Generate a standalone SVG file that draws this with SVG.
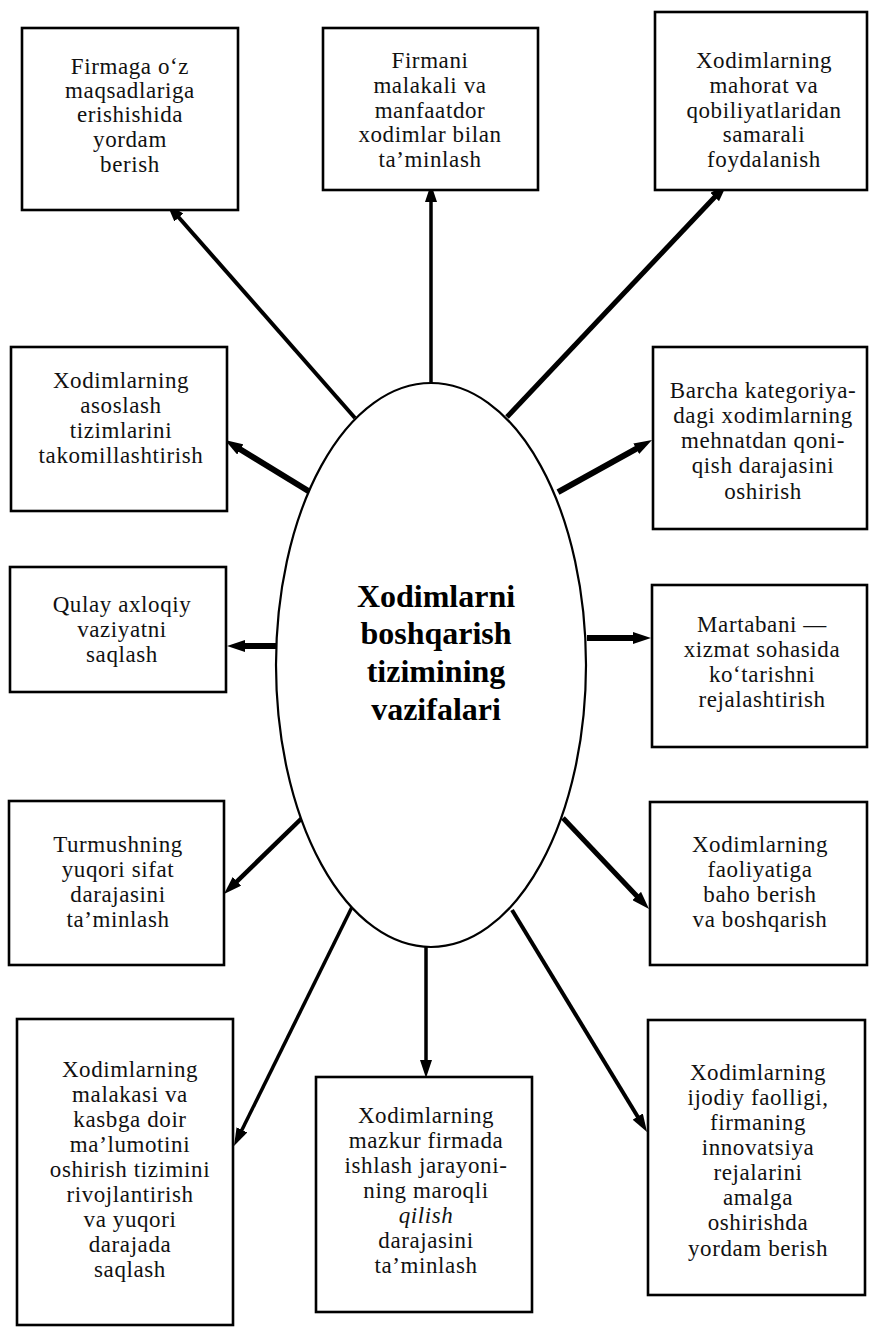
<svg xmlns="http://www.w3.org/2000/svg" width="869" height="1328" viewBox="0 0 869 1328">
<style>
.box{fill:#fff;stroke:#000;stroke-width:2.6}
.t{font-family:"Liberation Serif","Times New Roman",serif;font-size:23px;letter-spacing:0.6px;fill:#111;text-anchor:middle}
.title{font-family:"Liberation Serif","Times New Roman",serif;font-size:32px;font-weight:bold;fill:#000;text-anchor:middle}
.c{stroke:#000;fill:none;marker-end:url(#ah)}
</style>
<defs>
<marker id="ah" viewBox="0 0 18 12" markerWidth="18" markerHeight="12" refX="6" refY="6" orient="auto" markerUnits="userSpaceOnUse">
<path d="M0,0 L18,6 L0,12 z" fill="#000"/>
</marker>
</defs>
<rect width="869" height="1328" fill="#fff"/>

<g id="connectors">
<line class="c" x1="355" y1="418" x2="174.9" y2="213" stroke-width="4"/>
<line class="c" x1="431" y1="383" x2="431" y2="196" stroke-width="3.5"/>
<line class="c" x1="507" y1="417" x2="718.8" y2="192.7" stroke-width="5"/>
<line class="c" x1="310" y1="492" x2="235.2" y2="446.3" stroke-width="6"/>
<line class="c" x1="278" y1="646" x2="239" y2="646" stroke-width="6"/>
<line class="c" x1="558" y1="492" x2="641.5" y2="445.8" stroke-width="6"/>
<line class="c" x1="587" y1="638" x2="639" y2="638" stroke-width="6"/>
<line class="c" x1="302" y1="818" x2="232.6" y2="885.6" stroke-width="4.5"/>
<line class="c" x1="563" y1="818" x2="640.8" y2="900.3" stroke-width="5"/>
<line class="c" x1="352" y1="907" x2="239.3" y2="1135.2" stroke-width="3.5"/>
<line class="c" x1="426" y1="947" x2="426" y2="1066" stroke-width="3.5"/>
<line class="c" x1="512" y1="910" x2="640.8" y2="1121.7" stroke-width="4"/>
</g>

<g id="center">
<ellipse cx="431" cy="665" rx="155" ry="282" fill="#fff" stroke="#000" stroke-width="2.2"/>
<text class="title" x="436" y="607">Xodimlarni</text>
<text class="title" x="436" y="644">boshqarish</text>
<text class="title" x="436" y="682">tizimining</text>
<text class="title" x="436" y="720">vazifalari</text>
</g>

<g id="n1">
<rect class="box" x="22" y="28" width="216" height="182"/>
<text class="t" x="130" y="74">Firmaga o‘z</text>
<text class="t" x="130" y="98">maqsadlariga</text>
<text class="t" x="130" y="122">erishishida</text>
<text class="t" x="130" y="147">yordam</text>
<text class="t" x="130" y="172">berish</text>
</g>

<g id="n2">
<rect class="box" x="323" y="28" width="215" height="162"/>
<text class="t" x="430" y="68">Firmani</text>
<text class="t" x="430" y="93">malakali va</text>
<text class="t" x="430" y="118">manfaatdor</text>
<text class="t" x="430" y="142">xodimlar  bilan</text>
<text class="t" x="430" y="167">ta’minlash</text>
</g>

<g id="n3">
<rect class="box" x="655" y="12" width="212" height="178"/>
<text class="t" x="764" y="68">Xodimlarning</text>
<text class="t" x="764" y="93">mahorat va</text>
<text class="t" x="764" y="118">qobiliyatlaridan</text>
<text class="t" x="764" y="142">samarali</text>
<text class="t" x="764" y="167">foydalanish</text>
</g>

<g id="n4">
<rect class="box" x="11" y="347" width="216" height="164"/>
<text class="t" x="121" y="388">Xodimlarning</text>
<text class="t" x="121" y="413">asoslash</text>
<text class="t" x="121" y="438">tizimlarini</text>
<text class="t" x="121" y="463">takomillashtirish</text>
</g>

<g id="n5">
<rect class="box" x="10" y="567" width="216" height="125"/>
<text class="t" x="122" y="612">Qulay axloqiy</text>
<text class="t" x="122" y="637">vaziyatni</text>
<text class="t" x="122" y="662">saqlash</text>
</g>

<g id="n6">
<rect class="box" x="653" y="347" width="214" height="182"/>
<text class="t" x="763" y="398">Barcha kategoriya-</text>
<text class="t" x="763" y="423">dagi xodimlarning</text>
<text class="t" x="763" y="448">mehnatdan qoni-</text>
<text class="t" x="763" y="473">qish  darajasini</text>
<text class="t" x="763" y="499">oshirish</text>
</g>

<g id="n7">
<rect class="box" x="652" y="585" width="215" height="162"/>
<text class="t" x="762" y="632">Martabani —</text>
<text class="t" x="762" y="657">xizmat sohasida</text>
<text class="t" x="762" y="682">ko‘tarishni</text>
<text class="t" x="762" y="707">rejalashtirish</text>
</g>

<g id="n8">
<rect class="box" x="9" y="801" width="215" height="164"/>
<text class="t" x="118" y="852">Turmushning</text>
<text class="t" x="118" y="877">yuqori sifat</text>
<text class="t" x="118" y="902">darajasini</text>
<text class="t" x="118" y="927">ta’minlash</text>
</g>

<g id="n9">
<rect class="box" x="650" y="802" width="217" height="163"/>
<text class="t" x="760" y="852">Xodimlarning</text>
<text class="t" x="760" y="877">faoliyatiga</text>
<text class="t" x="760" y="902">baho  berish</text>
<text class="t" x="760" y="927">va boshqarish</text>
</g>

<g id="n10">
<rect class="box" x="17" y="1019" width="216" height="306"/>
<text class="t" x="130" y="1077">Xodimlarning</text>
<text class="t" x="130" y="1102">malakasi va</text>
<text class="t" x="130" y="1127">kasbga doir</text>
<text class="t" x="130" y="1152">ma’lumotini</text>
<text class="t" x="130" y="1177">oshirish  tizimini</text>
<text class="t" x="130" y="1202">rivojlantirish</text>
<text class="t" x="130" y="1227">va yuqori</text>
<text class="t" x="130" y="1252">darajada</text>
<text class="t" x="130" y="1277">saqlash</text>
</g>

<g id="n11">
<rect class="box" x="316" y="1077" width="216" height="235"/>
<text class="t" x="426" y="1123">Xodimlarning</text>
<text class="t" x="426" y="1148">mazkur firmada</text>
<text class="t" x="426" y="1173">ishlash  jarayoni-</text>
<text class="t" x="426" y="1198">ning maroqli</text>
<text class="t" x="426" y="1223" font-style="italic">qilish</text>
<text class="t" x="426" y="1248">darajasini</text>
<text class="t" x="426" y="1273">ta’minlash</text>
</g>

<g id="n12">
<rect class="box" x="648" y="1020" width="217" height="275"/>
<text class="t" x="758" y="1080">Xodimlarning</text>
<text class="t" x="758" y="1105">ijodiy  faolligi,</text>
<text class="t" x="758" y="1130">firmaning</text>
<text class="t" x="758" y="1155">innovatsiya</text>
<text class="t" x="758" y="1180">rejalarini</text>
<text class="t" x="758" y="1205">amalga</text>
<text class="t" x="758" y="1230">oshirishda</text>
<text class="t" x="758" y="1256">yordam berish</text>
</g>
</svg>
